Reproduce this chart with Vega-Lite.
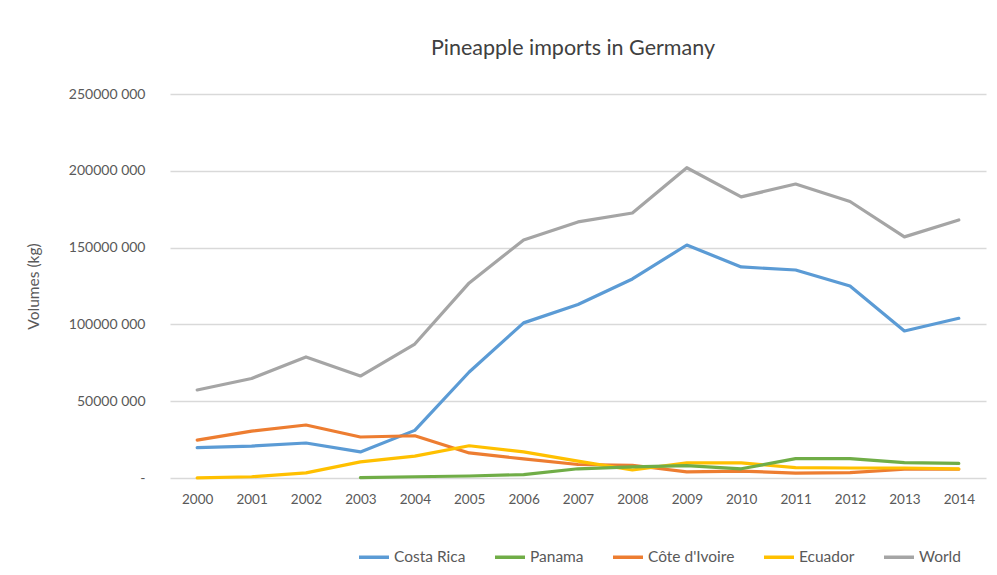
{
  "$schema": "https://vega.github.io/schema/vega-lite/v6.json",
  "width": 816,
  "height": 384,
  "autosize": {"type": "none"},
  "padding": {"left": 170, "top": 94, "right": 11, "bottom": 97},
  "background": "white",
  "config": {"font": "Lato", "view": {"stroke": null}},
  "title": {"text": "Pineapple imports in Germany", "fontSize": 21.5, "font": "Lato", "fontWeight": "normal", "color": "#404040", "anchor": "middle", "offset": 28, "dx": -5},
  "data": {"values": [
    {"year": "2000", "country": "World", "v": 57300000},
    {"year": "2001", "country": "World", "v": 64800000},
    {"year": "2002", "country": "World", "v": 78800000},
    {"year": "2003", "country": "World", "v": 66400000},
    {"year": "2004", "country": "World", "v": 87200000},
    {"year": "2005", "country": "World", "v": 127000000},
    {"year": "2006", "country": "World", "v": 155000000},
    {"year": "2007", "country": "World", "v": 166700000},
    {"year": "2008", "country": "World", "v": 172500000},
    {"year": "2009", "country": "World", "v": 202000000},
    {"year": "2010", "country": "World", "v": 183000000},
    {"year": "2011", "country": "World", "v": 191400000},
    {"year": "2012", "country": "World", "v": 180000000},
    {"year": "2013", "country": "World", "v": 157000000},
    {"year": "2014", "country": "World", "v": 168000000},
    {"year": "2000", "country": "Costa Rica", "v": 19800000},
    {"year": "2001", "country": "Costa Rica", "v": 20800000},
    {"year": "2002", "country": "Costa Rica", "v": 22800000},
    {"year": "2003", "country": "Costa Rica", "v": 17000000},
    {"year": "2004", "country": "Costa Rica", "v": 31000000},
    {"year": "2005", "country": "Costa Rica", "v": 69000000},
    {"year": "2006", "country": "Costa Rica", "v": 101000000},
    {"year": "2007", "country": "Costa Rica", "v": 113000000},
    {"year": "2008", "country": "Costa Rica", "v": 129600000},
    {"year": "2009", "country": "Costa Rica", "v": 151700000},
    {"year": "2010", "country": "Costa Rica", "v": 137400000},
    {"year": "2011", "country": "Costa Rica", "v": 135400000},
    {"year": "2012", "country": "Costa Rica", "v": 125000000},
    {"year": "2013", "country": "Costa Rica", "v": 95700000},
    {"year": "2014", "country": "Costa Rica", "v": 104000000},
    {"year": "2000", "country": "Côte d'Ivoire", "v": 24700000},
    {"year": "2001", "country": "Côte d'Ivoire", "v": 30500000},
    {"year": "2002", "country": "Côte d'Ivoire", "v": 34500000},
    {"year": "2003", "country": "Côte d'Ivoire", "v": 26700000},
    {"year": "2004", "country": "Côte d'Ivoire", "v": 27500000},
    {"year": "2005", "country": "Côte d'Ivoire", "v": 16300000},
    {"year": "2006", "country": "Côte d'Ivoire", "v": 12400000},
    {"year": "2007", "country": "Côte d'Ivoire", "v": 8800000},
    {"year": "2008", "country": "Côte d'Ivoire", "v": 8300000},
    {"year": "2009", "country": "Côte d'Ivoire", "v": 4000000},
    {"year": "2010", "country": "Côte d'Ivoire", "v": 4500000},
    {"year": "2011", "country": "Côte d'Ivoire", "v": 3200000},
    {"year": "2012", "country": "Côte d'Ivoire", "v": 3500000},
    {"year": "2013", "country": "Côte d'Ivoire", "v": 5700000},
    {"year": "2014", "country": "Côte d'Ivoire", "v": 5700000},
    {"year": "2000", "country": "Ecuador", "v": 100000},
    {"year": "2001", "country": "Ecuador", "v": 800000},
    {"year": "2002", "country": "Ecuador", "v": 3300000},
    {"year": "2003", "country": "Ecuador", "v": 10500000},
    {"year": "2004", "country": "Ecuador", "v": 14200000},
    {"year": "2005", "country": "Ecuador", "v": 21000000},
    {"year": "2006", "country": "Ecuador", "v": 17000000},
    {"year": "2007", "country": "Ecuador", "v": 11000000},
    {"year": "2008", "country": "Ecuador", "v": 5200000},
    {"year": "2009", "country": "Ecuador", "v": 9800000},
    {"year": "2010", "country": "Ecuador", "v": 9800000},
    {"year": "2011", "country": "Ecuador", "v": 6700000},
    {"year": "2012", "country": "Ecuador", "v": 6500000},
    {"year": "2013", "country": "Ecuador", "v": 6500000},
    {"year": "2014", "country": "Ecuador", "v": 6000000},
    {"year": "2003", "country": "Panama", "v": 300000},
    {"year": "2004", "country": "Panama", "v": 800000},
    {"year": "2005", "country": "Panama", "v": 1300000},
    {"year": "2006", "country": "Panama", "v": 2200000},
    {"year": "2007", "country": "Panama", "v": 6000000},
    {"year": "2008", "country": "Panama", "v": 7300000},
    {"year": "2009", "country": "Panama", "v": 8000000},
    {"year": "2010", "country": "Panama", "v": 6000000},
    {"year": "2011", "country": "Panama", "v": 12600000},
    {"year": "2012", "country": "Panama", "v": 12600000},
    {"year": "2013", "country": "Panama", "v": 10000000},
    {"year": "2014", "country": "Panama", "v": 9500000}
  ]},
  "mark": {"type": "line", "strokeWidth": 3.2, "strokeCap": "round", "strokeJoin": "round"},
  "encoding": {
    "x": {
      "field": "year", "type": "ordinal",
      "scale": {"type": "point", "padding": 0.5},
      "axis": {"title": null, "labelAngle": 0, "ticks": false, "domain": false, "grid": false, "labelFontSize": 13.5, "labelColor": "#595959", "labelPadding": 14, "labelFont": "Lato"}
    },
    "y": {
      "field": "v", "type": "quantitative",
      "scale": {"domain": [0, 250000000], "nice": false},
      "axis": {
        "values": [0, 50000000, 100000000, 150000000, 200000000, 250000000],
        "labelExpr": "datum.value == 0 ? '-' : format(datum.value / 1000, 'd') + ' 000'",
        "title": "Volumes (kg)", "titleFontSize": 15.5, "titleFontWeight": "normal", "titleColor": "#595959", "titlePadding": 27, "titleFont": "Lato",
        "labelFontSize": 14, "labelColor": "#595959", "labelPadding": 25, "labelFont": "Lato",
        "ticks": false, "domain": false, "grid": true, "gridColor": "#d9d9d9", "gridWidth": 1.3
      }
    },
    "color": {
      "field": "country", "type": "nominal",
      "scale": {"domain": ["Costa Rica", "Panama", "Côte d'Ivoire", "Ecuador", "World"], "range": ["#5B9BD5", "#70AD47", "#ED7D31", "#FFC000", "#A5A5A5"]},
      "legend": {
        "title": null, "orient": "none", "direction": "horizontal", "legendX": 187, "legendY": 446,
        "symbolType": "stroke", "symbolStrokeWidth": 3.5, "symbolSize": 900,
        "labelFontSize": 15.5, "labelColor": "#595959", "labelFont": "Lato", "labelOffset": 3, "columnPadding": 22
      }
    }
  }
}
